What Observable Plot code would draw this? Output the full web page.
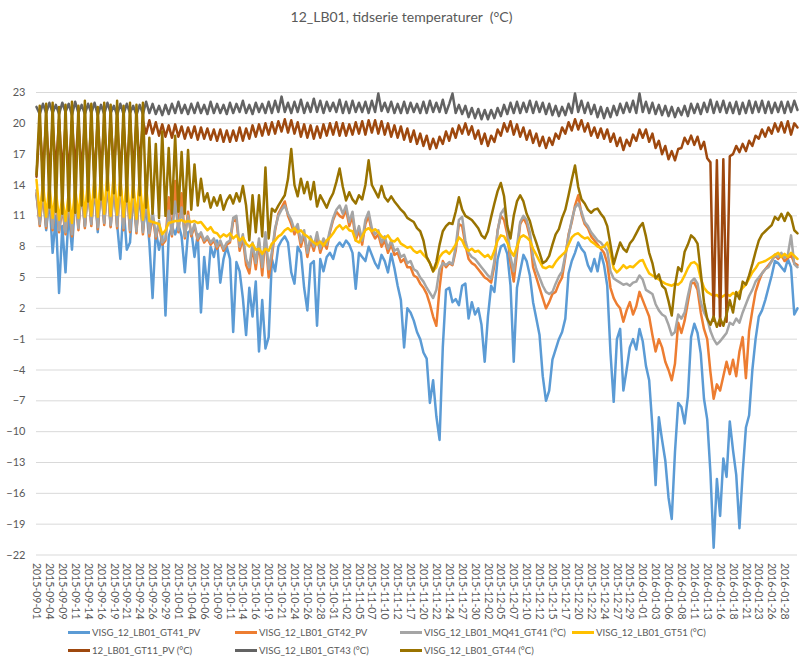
<!DOCTYPE html>
<html>
<head>
<meta charset="utf-8">
<script src="https://cdn.jsdelivr.net/npm/d3@7"></script>
<script src="https://cdn.jsdelivr.net/npm/@observablehq/plot@0.6"></script>
<style>
  body { margin: 0; background: #fff; font-family: Lato, "Open Sans", sans-serif; }
  #wrap { position: relative; width: 803px; height: 664px; overflow: hidden; }
  #chart { position: absolute; left: 0; top: 0; }
  #title { position: absolute; top: 8px; left: 0; width: 803px; text-align: center; font-size: 14px; color: #595959; white-space: pre; }
  .lg { position: absolute; display: flex; align-items: center; font-size: 9.6px; color: #595959; white-space: nowrap; }
  .lg i { display: inline-block; width: 22px; height: 3px; margin-right: 2px; }
</style>
</head>
<body>
<div id="wrap">
  <div id="chart"></div>
  <div id="title">12_LB01, tidserie temperaturer  (°C)</div>
  <div id="legend"></div>
</div>
<script>
// Category tick labels (one every 4 samples)
const dates = ["2015-09-01","2015-09-04","2015-09-09","2015-09-11","2015-09-14","2015-09-16","2015-09-19","2015-09-21","2015-09-24","2015-09-26","2015-09-29","2015-10-01","2015-10-04","2015-10-06","2015-10-09","2015-10-11","2015-10-14","2015-10-16","2015-10-19","2015-10-21","2015-10-24","2015-10-26","2015-10-28","2015-10-31","2015-11-02","2015-11-05","2015-11-07","2015-11-10","2015-11-12","2015-11-17","2015-11-20","2015-11-22","2015-11-24","2015-11-27","2015-11-30","2015-12-02","2015-12-05","2015-12-07","2015-12-10","2015-12-12","2015-12-15","2015-12-17","2015-12-20","2015-12-22","2015-12-24","2015-12-27","2015-12-29","2016-01-01","2016-01-03","2016-01-06","2016-01-08","2016-01-11","2016-01-13","2016-01-16","2016-01-18","2016-01-21","2016-01-23","2016-01-26","2016-01-28"];
const yTicks = [-22,-19,-16,-13,-10,-7,-4,-1,2,5,8,11,14,17,20,23];
const step = 0.25; // 4 samples per category label interval

const names = ["VISG_12_LB01_GT41_PV","VISG_12_LB01_GT42_PV","VISG_12_LB01_MQ41_GT41 (°C)","VISG_12_LB01_GT51 (°C)","12_LB01_GT11_PV (°C)","VISG_12_LB01_GT43 (°C)","VISG_12_LB01_GT44 (°C)"];
const colors = ["#5B9BD5","#ED7D31","#A5A5A5","#FFC000","#9E480E","#636363","#997300"];

const gt41 = [
13.0,10.4,13.2,9.6,12.8,7.4,11.0,3.5,10.0,5.5,11.5,7.7,12.6,10.2,13.2,10.0,13.6,10.2,13.8,9.4,
14.0,10.3,14.2,10.0,13.8,10.2,6.8,12.0,7.7,8.4,13.0,9.8,13.0,9.6,12.0,8.4,3.0,9.6,7.7,9.2,
1.3,9.0,10.0,9.2,10.2,9.0,5.5,9.4,9.6,7.0,9.2,1.6,7.0,3.9,8.0,7.0,8.6,4.5,6.8,8.0,
6.8,-0.3,6.5,5.6,3.0,-0.6,4.0,1.2,4.6,-2.2,2.8,-1.9,-0.8,6.8,5.6,8.0,8.6,9.0,8.4,5.5,
4.4,8.0,7.4,4.0,1.8,6.3,6.6,0.3,6.8,5.6,7.0,7.4,6.8,8.0,8.4,8.0,8.6,8.2,7.4,3.9,
7.4,7.0,6.6,8.0,7.2,6.4,5.9,7.2,6.6,5.5,7.3,5.9,4.2,2.8,-1.8,2.0,1.6,0.8,-0.3,-1.0,
-2.3,-2.9,-7.2,-5.0,-8.5,-10.8,-1.8,3.8,4.0,2.6,2.9,2.3,4.2,4.4,1.0,2.6,1.4,2.0,0.4,-3.2,
1.2,4.2,3.6,6.8,8.0,8.2,7.3,4.2,-3.2,4.0,5.6,7.2,6.6,5.2,2.6,1.0,-0.6,-4.6,-7.0,-6.0,
-3.0,-2.0,-1.0,-0.3,1.0,5.4,6.6,7.4,8.4,7.8,7.4,6.2,5.6,6.8,5.6,7.4,6.2,
4.2,-2.3,-7.1,-1.0,0.0,-6.0,-4.0,-1.8,-1.0,-2.0,0.0,-1.2,-3.6,-5.0,-9.5,-15.2,-8.6,-10.8,-12.8,-16.4,
-18.5,-12.0,-7.2,-7.6,-9.2,-6.6,-0.8,0.5,-0.4,-2.4,-6.8,-8.8,-14.0,-21.3,-14.6,-18.2,-12.6,-14.4,-9.0,-11.8,
-14.2,-19.4,-14.0,-9.6,-8.4,-4.0,-1.0,1.2,1.8,2.8,4.0,5.2,6.6,6.4,6.0,5.6,6.8,6.0,1.4,2.0
];

const gt42 = [
13.2,10.0,13.5,9.8, 13.3,9.6,12.8,9.4, 11.8,9.2,12.4,9.0, 13.2,9.6,13.8,9.8, 14.0,10.0,14.3,9.7,
14.4,10.1,14.6,9.9, 14.8,9.8,14.2,9.6, 13.8,9.4,13.6,9.3, 14.0,9.2,13.5,9.0, 11.0,8.8,10.2,8.2,
8.6,12.8,9.0,14.4, 9.4,13.2,8.8,11.4, 9.0,10.0,8.6,9.2, 8.4,8.8,8.2,8.6, 7.8,8.4,7.6,8.2,
8.4,10.5,10.6,7.6,8.8,6.2,5.4,8.0,5.8,8.4,5.2,9.0,5.0,7.0,9.6,11.2,11.8,12.4,11.0,10.2,
9.2,9.8,8.0,9.2,7.0,8.6,7.6,9.0,7.4,8.4,7.8,9.4,10.6,11.4,11.0,10.8,11.6,10.0,11.0,8.6,
9.6,8.2,10.2,11.0,9.4,8.8,9.2,8.0,8.6,7.4,8.2,7.2,7.4,6.5,6.8,6.0,6.0,5.2,5.0,4.4,4.0,
3.4,2.4,1.2,0.3,4.0,6.6,6.0,6.4,6.2,7.6,10.2,10.0,8.2,6.8,6.4,6.2,5.8,5.4,5.0,4.8,
4.5,6.2,9.6,11.0,10.6,9.2,6.4,4.6,7.4,10.2,10.8,10.2,9.0,6.0,5.0,4.0,3.0,2.0,2.6,3.4,
3.6,4.4,5.0,7.0,9.2,10.4,12.0,13.0,11.2,10.2,9.8,9.0,8.6,8.2,7.8,7.4,
6.4,4.0,3.0,2.4,2.0,0.7,1.8,2.6,1.4,2.2,3.6,2.8,2.0,1.2,-0.6,-2.2,-1.0,-1.8,-3.2,-4.0,
-5.0,-3.4,0.6,-0.4,0.8,2.6,4.4,4.5,3.8,1.6,0.0,-1.0,-4.2,-6.8,-5.4,-6.0,-4.6,-3.2,-4.4,-3.0,
-4.6,-2.2,-0.8,-4.8,-0.2,1.8,3.6,4.6,5.4,5.8,6.2,6.6,7.2,6.8,7.2,6.6,6.9,7.2,6.4,6.2
];

const mq41 = [
13.5,10.2,13.8,10.0, 13.6,9.8,13.0,9.6, 12.0,9.4,12.6,9.2, 13.4,9.8,14.0,10.0, 14.2,10.2,14.5,9.9,
14.6,10.3,14.8,10.1, 15.0,10.0,14.4,9.8, 14.0,9.6,13.8,9.5, 14.2,9.4,13.0,9.3, 11.5,9.0,10.5,8.4,
8.8,11.5,9.2,12.4, 9.6,11.8,9.0,11.0, 9.2,10.2,8.8,9.4, 8.6,9.0,8.4,8.8, 8.0,8.6,7.8,8.4,
8.6,10.8,11.0,8.0,9.2,6.8,6.0,8.4,6.4,8.8,6.0,9.4,5.8,7.5,9.8,11.0,11.6,12.0,11.2,10.6,
9.6,10.2,8.4,9.6,7.4,9.0,8.0,9.4,7.8,8.8,8.2,9.6,10.8,11.6,12.0,11.2,12.0,10.4,11.4,9.0,
10.0,8.6,10.6,11.4,9.8,9.2,9.6,8.4,9.0,7.8,8.6,7.6,7.8,7.0,7.2,6.4,6.6,5.8,5.6,5.0,4.6,
4.0,3.5,3.0,3.8,5.8,6.4,6.2,6.5,6.3,8.0,10.6,10.9,8.6,7.4,7.0,6.8,6.4,6.0,5.6,5.2,
4.9,6.6,9.5,11.2,11.7,9.8,7.0,5.6,8.0,10.4,11.0,10.6,9.4,7.0,5.8,5.0,4.2,3.6,3.4,3.6,
4.4,5.1,5.6,7.2,9.0,10.6,11.8,12.2,11.4,10.4,10.0,9.4,9.0,8.6,8.4,8.0,
7.6,5.6,4.9,4.7,4.5,4.3,4.4,4.2,4.5,4.6,5.2,4.8,3.8,3.6,3.4,2.4,1.8,1.4,1.2,0.4,
-0.6,-0.3,1.4,1.0,1.6,3.2,4.6,4.9,4.4,2.6,1.6,1.0,-0.2,-1.0,-1.5,-1.2,-0.8,-0.4,0.6,0.4,
1.0,0.6,1.6,2.4,3.2,3.8,4.6,5.0,5.4,5.8,6.0,6.6,7.2,7.0,7.4,6.9,7.2,9.1,6.3,6.0
];

const gt51 = [
14.5,11.0,14.2,10.9, 14.0,10.8,13.5,10.6, 12.8,10.5,13.2,10.3, 13.8,10.8,14.4,10.9, 14.6,11.0,14.8,10.9,
15.0,11.2,15.2,11.0, 15.3,11.1,14.8,10.9, 14.5,10.8,14.2,10.7, 14.6,10.6,14.0,10.5, 10.4,10.3,10.2,9.2,
9.6,10.3,10.4,10.5, 10.5,10.6,10.4,10.5, 10.4,10.5,10.3,10.4, 10.0,9.6,9.9,9.4,
9.3,8.9,9.2,9.0,9.3,8.8,9.1,8.6,8.9,8.3,8.0,8.3,7.7,7.8,7.3,7.8,7.6,8.3,8.6,9.0,
9.2,9.6,9.8,9.5,9.8,9.4,9.6,9.2,9.0,8.7,8.4,8.2,8.5,8.1,8.6,8.9,9.3,9.8,10.1,9.7,
10.0,9.6,9.5,8.6,8.4,9.0,9.6,9.8,9.5,9.7,9.4,9.0,8.8,9.1,8.6,8.5,8.8,8.3,8.1,7.9,
8.0,7.6,7.4,7.6,7.2,
6.9,6.4,5.6,6.0,7.0,7.4,7.6,7.3,7.7,8.2,8.9,8.6,7.9,7.6,7.8,7.5,7.6,7.3,7.0,7.2,
6.8,7.6,8.6,9.1,9.0,8.4,7.6,7.1,8.0,8.9,9.1,8.9,8.6,7.8,7.2,6.6,6.0,5.9,6.1,6.0,
6.5,6.9,7.2,7.5,8.2,8.9,9.2,9.3,9.0,8.8,8.9,8.5,8.3,8.0,7.9,8.0,
8.4,7.4,5.9,5.5,5.8,6.2,5.9,6.1,6.0,6.3,6.6,6.7,6.0,5.4,5.2,5.0,4.8,4.6,4.4,4.3,
4.2,4.4,4.3,4.6,5.2,5.9,6.4,6.5,6.2,4.9,4.0,3.6,3.4,3.2,3.3,3.0,3.2,3.4,3.2,3.5,
3.3,3.6,4.0,4.3,4.9,5.5,5.9,6.4,6.5,6.6,6.8,7.0,7.2,7.4,7.0,7.3,7.0,7.4,7.1,6.8
];

const gt11 = [
14.8,20.0,15.2,20.3, 15.0,20.1,15.4,20.4, 15.1,19.9,15.0,20.2, 15.6,20.3,15.2,20.0, 15.0,20.2,14.8,20.4,
15.3,20.0,15.1,20.3, 15.5,20.2,15.2,20.1, 15.0,20.3,15.4,20.2, 16.0,20.2,19.0,20.3, 19.0,20.1,18.8,19.9,
18.7,19.8,18.6,19.9, 18.7,19.7,18.5,19.6, 18.6,19.7,18.4,19.6, 18.5,19.5,18.4,19.4, 18.3,19.4,18.2,19.3,
18.2,19.3,18.3,19.6, 18.3,19.5,18.5,19.8, 18.7,19.9,18.8,20.0, 18.9,20.1,19.0,20.2, 19.2,20.4,19.1,20.3,
19.0,20.1,18.7,19.9, 18.6,19.8,18.5,19.7, 18.6,19.9,18.8,20.0, 18.9,20.1,18.8,20.0, 18.8,19.9,18.9,20.1,
19.0,20.2,18.9,20.3, 19.1,20.3,19.0,20.2, 18.9,20.0,18.7,19.8, 18.6,19.7,18.4,19.5, 18.2,19.3,18.0,19.0,
17.8,18.8,17.5,18.5, 17.6,18.7,18.0,19.2, 18.3,19.5,18.6,19.8, 19.0,20.0,18.9,19.7, 18.5,19.3,18.0,19.0,
17.8,18.8,18.2,19.4, 18.8,20.0,19.2,20.2, 18.9,19.9,18.7,19.6, 18.4,19.3,18.1,19.0, 17.8,18.7,17.6,18.6,
17.9,19.0,18.5,19.6, 19.0,20.1,19.3,20.4, 19.4,20.3,19.2,20.0, 18.8,19.6,18.6,19.5, 18.5,19.4,18.2,19.0,
17.8,18.6,17.4,18.4, 17.8,18.9,18.3,19.4, 18.6,19.4,18.2,19.0, 17.6,18.3,17.0,17.8, 16.5,17.3,16.4,17.5,
17.6,18.6,18.0,18.8, 17.9,18.7,17.5,18.2, 16.6,16.2,0.8,16.4, 0.3,16.5,0.7,16.8, 17.0,17.8,17.2,18.0,
17.3,18.3,17.8,18.8, 18.5,19.4,18.7,19.6, 19.0,20.0,19.2,20.1, 19.1,20.2,18.9,20.0, 19.6
];

const gt43 = [
21.6,20.9,21.9,21.0, 22.0,21.0,21.8,20.9, 22.0,21.1,21.9,20.8, 22.1,21.0,21.8,20.9, 21.9,21.0,22.0,20.8,
21.8,20.9,22.0,21.0, 21.7,20.8,21.9,20.9, 21.9,21.0,21.7,20.8, 21.8,20.9,22.1,21.0, 21.9,20.9,21.7,20.8,
21.8,20.9,21.9,21.0, 22.1,21.0,21.8,20.9, 21.9,21.0,22.0,21.0, 21.8,20.9,22.1,21.0, 21.9,21.0,21.8,20.9,
22.0,21.0,21.9,21.1, 22.2,21.0,21.8,20.9, 22.0,21.1,21.9,21.0, 22.1,21.0,22.2,21.1, 22.6,21.1,22.0,21.0,
22.1,21.1,22.3,21.0, 22.0,21.1,22.4,21.1, 22.2,21.0,22.1,21.2, 22.0,21.1,22.3,21.0, 22.1,21.0,22.2,21.1,
22.0,21.1,22.1,21.0, 22.2,21.1,22.9,21.2, 22.0,21.1,22.1,21.0, 21.9,21.0,22.1,21.0, 22.0,21.1,21.9,21.0,
22.1,21.0,22.2,21.1, 22.0,21.1,22.3,21.0, 21.9,22.9,21.0,21.8, 20.9,21.7,20.6,21.5, 20.5,21.4,20.4,21.3,
20.4,21.3,20.5,21.5, 20.7,21.8,20.9,22.0, 21.0,22.1,21.0,22.0, 21.1,22.2,21.0,22.1, 21.1,22.0,20.9,21.9,
20.8,21.7,20.7,21.6, 20.8,21.9,21.0,22.9, 21.1,22.2,21.0,22.0, 20.9,21.8,20.6,21.6, 20.5,21.5,20.6,21.7,
20.8,21.9,21.0,22.0, 21.1,22.2,21.0,22.9, 21.1,22.1,21.0,22.0, 20.9,21.8,20.8,21.7, 20.7,21.6,20.6,21.5,
20.8,21.7,20.7,21.9, 21.0,21.9,20.9,22.0, 21.1,22.3,21.0,22.1, 21.1,22.2,21.0,22.0, 21.0,22.1,20.9,22.0,
21.0,22.2,21.0,22.1, 21.1,22.2,21.0,22.1, 21.0,22.0,21.1,22.1, 21.0,22.1,21.1,22.2, 21.3
];

const gt44 = [
15.0,21.7,12.5,21.9, 11.8,22.0,11.4,21.6, 11.2,21.8,11.5,22.1, 11.3,21.7,12.0,22.2, 12.4,21.9,12.8,21.6,
12.6,22.0,13.5,21.8, 13.2,22.2,13.0,21.7, 12.4,22.0,12.8,21.8, 13.0,22.0,11.8,18.6, 11.2,18.0,10.8,19.2,
11.0,17.6,11.2,18.8, 11.4,17.2,11.2,17.4, 11.6,16.0,12.0,14.6, 12.4,13.2,11.8,12.8, 12.0,13.0,11.6,
12.5,13.0,12.2,13.2,12.4,13.9,12.0,8.6,13.0,9.4,13.0,9.0,15.7,8.8,11.7,11.4,12.0,12.5,13.0,14.6,
17.5,14.0,12.9,14.6,13.2,14.3,12.6,14.3,11.9,13.0,12.4,11.8,12.6,13.2,14.3,15.6,13.8,12.5,13.3,12.6,
12.2,13.0,12.6,14.0,16.4,14.0,13.4,12.8,13.9,12.8,12.4,12.9,12.4,12.0,11.6,11.3,10.8,10.6,10.4,9.8,
9.5,8.6,
7.0,6.4,5.6,6.5,8.2,9.5,10.0,10.3,10.2,11.4,12.8,11.6,11.0,10.8,10.6,10.2,9.8,9.1,8.8,9.5,
10.9,12.2,13.4,14.2,12.9,10.0,8.8,11.0,12.4,13.0,12.4,11.2,10.5,9.3,8.4,7.4,6.4,6.6,7.1,8.2,
9.2,9.7,10.8,11.6,13.0,14.5,15.9,13.8,12.6,12.2,11.6,11.3,11.6,11.7,11.2,10.8,
10.0,8.2,6.3,7.4,8.4,7.8,7.5,8.3,8.7,9.3,9.9,10.3,9.0,7.4,6.4,4.9,5.3,4.2,3.9,2.7,
1.3,4.2,6.0,5.6,7.5,8.2,9.1,8.8,8.3,5.5,2.6,1.0,0.4,1.2,0.2,1.0,0.3,1.4,2.8,1.6,
3.6,2.9,4.6,4.3,5.2,6.3,7.5,8.6,9.2,9.5,9.8,10.1,10.9,10.6,11.2,10.5,11.3,10.9,9.6,9.3
];

const values = [gt41, gt42, mq41, gt51, gt11, gt43, gt44];

const chart = Plot.plot({
  width: 803,
  height: 624,
  marginLeft: 36,
  marginRight: 6,
  marginTop: 92,
  marginBottom: 69.5,
  x: {domain: [0, dates.length], axis: null},
  y: {domain: [-22, 23], axis: null},
  style: {fontFamily: "Lato, 'Open Sans', sans-serif", fontSize: "11px", color: "#595959", background: "white"},
  marks: [
    Plot.gridY(yTicks, {stroke: "#d9d9d9", strokeOpacity: 1, strokeWidth: 1}),
    Plot.axisY(yTicks, {tickSize: 0, tickPadding: 11, label: null, fill: "#595959"}),
    Plot.axisX(d3.range(dates.length), {tickFormat: i => dates[i], tickRotate: 90, tickSize: 0, tickPadding: 8, label: null, fill: "#595959", fontSize: 10.5}),
    ...values.map((vals, k) => Plot.lineY(vals, {
      x: (d, i) => i * step,
      y: d => d,
      stroke: colors[k],
      strokeWidth: 2.5,
      strokeLinejoin: "round"
    }))
  ]
});
document.getElementById("chart").appendChild(chart);

// Legend (Excel-style, two rows)
const legendPos = [[68, 632], [235, 632], [400, 632], [572, 632], [68, 650], [235, 650], [400, 650]];
const legend = document.getElementById("legend");
names.forEach((n, k) => {
  const el = document.createElement("div");
  el.className = "lg";
  el.style.left = legendPos[k][0] + "px";
  el.style.top = (legendPos[k][1] - 8) + "px";
  el.style.height = "16px";
  el.innerHTML = `<i style="background:${colors[k]}"></i><span>${n}</span>`;
  legend.appendChild(el);
});
</script>
</body>
</html>
